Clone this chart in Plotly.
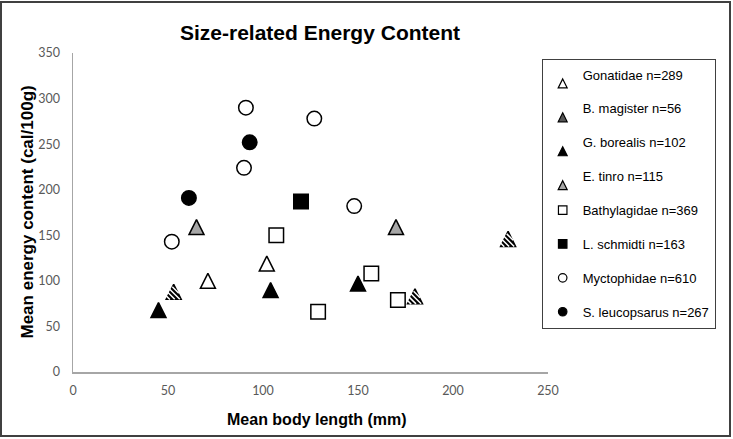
import plotly.graph_objects as go

# ---- data ----
title_text = "Size-related Energy Content"
x_title = "Mean body length (mm)"
y_title = "Mean energy content (cal/100g)"

x_ticks = [0, 50, 100, 150, 200, 250]
y_ticks = [0, 50, 100, 150, 200, 250, 300, 350]

gonatidae_x = [71, 102]
gonatidae_y = [100, 119]
magister_x = [53, 180, 229]
magister_y = [88, 83, 146]
borealis_x = [45, 104, 150]
borealis_y = [68, 90, 97]
tinro_x = [65, 170]
tinro_y = [159, 159]
bathy_x = [107, 157, 129, 171]
bathy_y = [150, 108, 66, 79]
schmidti_x = [120]
schmidti_y = [187]
mycto_x = [91, 90, 52, 127, 148]
mycto_y = [290, 224, 143, 278, 182]
leuco_x = [61, 93]
leuco_y = [191, 252]

names = ["Gonatidae n=289", "B. magister n=56", "G. borealis n=102", "E. tinro n=115",
         "Bathylagidae n=369", "L. schmidti n=163", "Myctophidae n=610", "S. leucopsarus n=267"]

# ---- layout geometry (pixels) ----
W, H = 733, 439
L, R, T, B = 73, 185, 53, 67
PW, PH = W - L - R, H - T - B


def px_x(p):
    return (p - L) / PW


def px_y(p):
    return (H - B - p) / PH


FONT = "Liberation Sans, Arial, sans-serif"
TICKFONT = "Lato, Open Sans, sans-serif"

SZ = 14.5      # circles / squares
TS = 15        # triangles
LW = 1.5

fig = go.Figure()


def tri(x, y, fill, open_=False, showlegend=False, name=None):
    sym = "arrow-down-open" if open_ else "arrow-down"
    return go.Scatter(
        x=x, y=y, mode="markers", showlegend=showlegend, name=name, hoverinfo="skip",
        marker=dict(symbol=sym, size=TS, angle=180, standoff=TS / 2,
                    color=fill, line=dict(color="black", width=LW)))


# B. magister (hatched triangles) drawn first
fig.add_trace(tri(magister_x, magister_y, "black"))
for ang, so, sz in [(225, 2.6, 6.5), (45, 1.0, 13.7), (45, 4.6, 8.6), (45, 8.2, 4)]:
    fig.add_trace(go.Scatter(
        x=magister_x, y=magister_y, mode="markers", showlegend=False, hoverinfo="skip",
        marker=dict(symbol="line-ew", size=sz, angle=ang, standoff=so,
                    line=dict(color="white", width=1.5))))
fig.add_trace(tri(magister_x, magister_y, "rgba(0,0,0,0)", open_=True))

# other triangles
fig.add_trace(tri(gonatidae_x, gonatidae_y, "white"))
fig.add_trace(tri(borealis_x, borealis_y, "black"))
fig.add_trace(tri(tinro_x, tinro_y, "#a6a6a6"))


def pts(x, y, sym, fill):
    return go.Scatter(
        x=x, y=y, mode="markers", showlegend=False, hoverinfo="skip",
        marker=dict(symbol=sym, size=SZ, color=fill, line=dict(color="black", width=LW)))


fig.add_trace(pts(bathy_x, bathy_y, "square", "white"))
fig.add_trace(pts(schmidti_x, schmidti_y, "square", "black"))
fig.add_trace(pts(mycto_x, mycto_y, "circle", "white"))
fig.add_trace(pts(leuco_x, leuco_y, "circle", "black"))

# ---- legend-only traces ----
LS = 9
leg_specs = [
    ("tri", "white"), ("tri", "#555555"), ("tri", "black"), ("tri", "#a6a6a6"),
    ("square", "white"), ("square", "black"), ("circle", "white"), ("circle", "black"),
]
for i, (kind, fill) in enumerate(leg_specs):
    if kind == "tri":
        mk = dict(symbol="arrow-down", size=LS, angle=180, standoff=LS / 2,
                  color=fill, line=dict(color="black", width=1.2))
    else:
        mk = dict(symbol=kind, size=LS - 0.5, color=fill, line=dict(color="black", width=1.2))
    fig.add_trace(go.Scatter(x=[None], y=[None], mode="markers", name=names[i],
                             legendgroup=f"g{i}", showlegend=True, marker=mk))

fig.update_layout(
    width=W, height=H,
    margin=dict(l=L, r=R, t=T, b=B, pad=0),
    paper_bgcolor="white", plot_bgcolor="white",
    showlegend=True,
    title=dict(text=title_text, x=320 / W, xref="container", xanchor="center",
               y=1 - 33 / H, yref="container", yanchor="middle",
               font=dict(family=FONT, size=21, color="black", weight="bold")),
    legend=dict(x=px_x(541.7), y=px_y(58.5), xanchor="left", yanchor="top",
                bordercolor="#404040", borderwidth=1, bgcolor="white",
                font=dict(family=FONT, size=13, color="black"),
                tracegroupgap=14, itemsizing="trace"),
    xaxis=dict(range=[0, 250], tickvals=x_ticks, showgrid=False, zeroline=False,
               showline=True, linecolor="#a6a6a6", linewidth=1.5, ticks="",
               ticklabelstandoff=6,
               tickfont=dict(family=TICKFONT, size=12.5, color="#595959")),
    yaxis=dict(range=[0, 350], tickvals=y_ticks, showgrid=False, zeroline=False,
               showline=True, linecolor="#a6a6a6", linewidth=1.5, ticks="",
               ticklabelstandoff=9,
               tickfont=dict(family=TICKFONT, size=12.5, color="#595959")),
    annotations=[
        dict(text=x_title, xref="paper", yref="paper", x=px_x(317), y=px_y(419),
             xanchor="center", yanchor="middle", showarrow=False,
             font=dict(family=FONT, size=16, color="black", weight="bold")),
        dict(text=y_title, xref="paper", yref="paper", x=px_x(27), y=px_y(212.5),
             xanchor="center", yanchor="middle", showarrow=False, textangle=-90,
             font=dict(family=FONT, size=17, color="black", weight="bold")),
    ],
    shapes=[dict(type="rect", xref="paper", yref="paper",
                 x0=px_x(1), x1=px_x(730), y0=px_y(436), y1=px_y(2),
                 line=dict(color="#404040", width=2), fillcolor="rgba(0,0,0,0)")],
)

fig.write_html("out.html",
               config={"displayModeBar": False, "staticPlot": True},
               post_script="document.body.style.margin='0';document.body.style.overflow='hidden';")
